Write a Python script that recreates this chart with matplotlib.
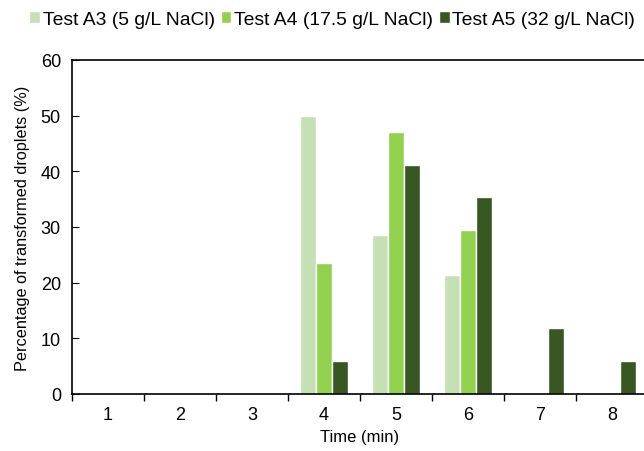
import matplotlib.pyplot as plt
import numpy as np

plt.rcParams['font.family'] = ['Liberation Sans', 'DejaVu Sans']

times = ['1', '2', '3', '4', '5', '6', '7', '8']
series = ['Test A3 (5 g/L NaCl)', 'Test A4 (17.5 g/L NaCl)', 'Test A5 (32 g/L NaCl)']
a3 = [0, 0, 0, 50.0, 28.6, 21.4, 0, 0]
a4 = [0, 0, 0, 23.5, 47.1, 29.4, 0, 0]
a5 = [0, 0, 0, 5.9, 41.2, 35.3, 11.8, 5.9]
colors = ['#C5E0B4', '#92D050', '#385723']

fig = plt.figure(figsize=(6.44, 4.52), dpi=100)
ax = fig.add_axes([72/644, 57/452, 576/644, 334/452])

x = np.arange(len(times))
w = 0.222
for k, (vals, c, lab) in enumerate(zip([a3, a4, a5], colors, series)):
    ax.bar(x + (k - 1) * w, vals, width=w, color=c, edgecolor='white', linewidth=1.0, label=lab)

ax.set_xlim(-0.5, len(times) - 0.5)
ax.set_ylim(0, 60)
ax.set_yticks(range(0, 61, 10))
ax.set_xticks(x)
ax.set_xticklabels(times)
ax.set_xticks(np.arange(-0.5, len(times), 1), minor=True)
ax.tick_params(axis='x', which='major', length=0, labelsize=13, pad=9)
ax.tick_params(axis='x', which='minor', length=5, direction='out', width=1)
ax.tick_params(axis='y', length=5, direction='in', labelsize=13, pad=8)
for s in ax.spines.values():
    s.set_linewidth(1.2)

ax.set_xlabel('Time (min)', fontsize=12, labelpad=4)
ax.set_ylabel('Percentage of transformed droplets (%)', fontsize=11.7, labelpad=8)

fig.legend(loc='upper center', bbox_to_anchor=(0.516, 1.0), ncol=3, frameon=False,
           fontsize=13.9, handlelength=0.55, handleheight=0.55, handletextpad=0.15,
           columnspacing=0.3, borderaxespad=0.2)

fig.savefig('out.png', dpi=100)
